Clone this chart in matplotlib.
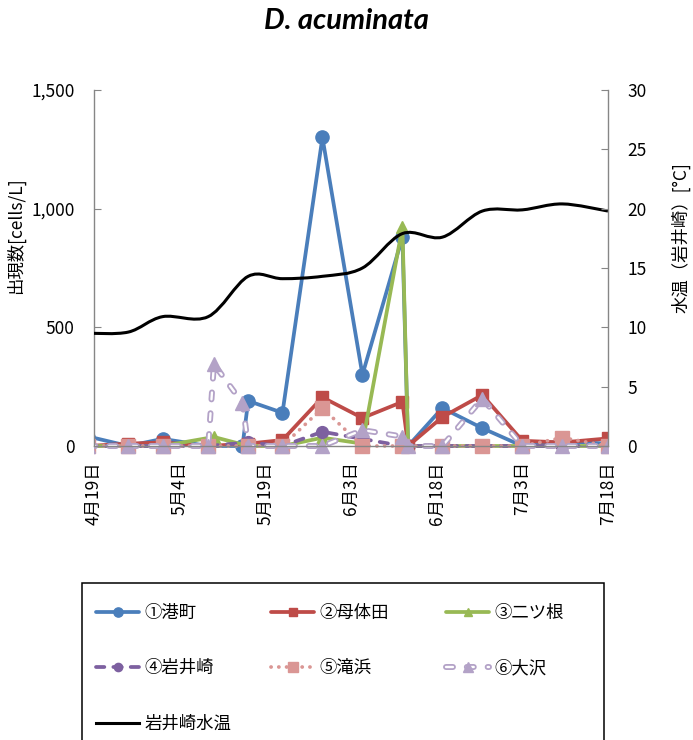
import numpy as np
import pandas as pd
import matplotlib
matplotlib.use('Agg')
import matplotlib.pyplot as plt
import matplotlib.dates as mdates
from matplotlib.path import Path
from matplotlib.patches import PathPatch, Rectangle
from matplotlib.lines import Line2D
from matplotlib.ticker import FuncFormatter, MultipleLocator

plt.rcParams['font.family'] = ['Noto Sans CJK JP', 'DejaVu Sans']
plt.rcParams['lines.scale_dashes'] = False

YEAR = 2016

# ---- data (cells/L) ----
site_names = ['①港町', '②母体田', '③二ツ根', '④岩井崎', '⑤滝浜', '⑥大沢']
temp_name = '岩井崎水温'

minato_dates = ['4/18', '4/25', '5/1', '5/9', '5/15', '5/16', '5/22', '5/29', '6/5',
                '6/12', '6/13', '6/19', '6/26', '7/3', '7/10', '7/18']
minato = [40, 0, 30, 0, 0, 190, 140, 1300, 300, 880, 0, 160, 75, 0, 20, 10]

botaida_dates = ['4/18', '4/25', '5/1', '5/9', '5/16', '5/22', '5/29', '6/5', '6/12',
                 '6/13', '6/19', '6/26', '7/3', '7/10', '7/18']
botaida = [0, 10, 15, 0, 10, 25, 205, 118, 186, 0, 122, 215, 22, 15, 32]

futatsune_dates = ['4/18', '4/25', '5/1', '5/10', '5/16', '5/22', '5/29', '6/5', '6/12',
                   '6/13', '6/19', '6/26', '7/3', '7/10', '7/18']
futatsune = [0, 0, 0, 38, 0, 0, 35, 10, 922, 0, 0, 0, 0, 0, 0]

iwaisaki_dates = ['4/18', '4/25', '5/1', '5/9', '5/16', '5/22', '5/29', '6/5', '6/12',
                  '6/19', '6/26', '7/3', '7/10', '7/18']
iwaisaki = [0, 0, 0, 0, 15, 0, 60, 30, 0, 0, 0, 0, 0, 0]

takihama_dates = ['4/18', '4/25', '5/1', '5/9', '5/16', '5/22', '5/29', '6/5', '6/12',
                  '6/19', '6/26', '7/3', '7/10', '7/18']
takihama = [0, 0, 0, 0, 0, 0, 160, 0, 0, 0, 0, 0, 35, 0]

osawa_dates = ['4/18', '4/25', '5/1', '5/9', '5/10', '5/15', '5/16', '5/22', '5/29', '6/5',
               '6/12', '6/13', '6/19', '6/26', '7/3', '7/10', '7/18']
osawa = [0, 0, 0, 0, 345, 181, 0, 0, 0, 67, 40, 0, 0, 200, 0, 0, 0]

temp_dates = ['4/18', '4/25', '5/1', '5/9', '5/16', '5/22', '5/29', '6/5', '6/12',
              '6/19', '6/26', '7/3', '7/10', '7/18']
temp = [9.5, 9.6, 10.9, 10.9, 14.3, 14.1, 14.3, 15.0, 17.9, 17.6, 19.8, 19.9, 20.4, 19.8]

x_ticks = ['4/19', '5/4', '5/19', '6/3', '6/18', '7/3', '7/18']


def to_num(dates):
    return mdates.date2num(pd.to_datetime([f'{YEAR}/{s}' for s in dates]))


def smooth_path(x, y):
    # Excel-like smoothed line: Catmull-Rom through the points as cubic beziers
    pts = np.column_stack([x, y])
    n = len(pts)
    verts = [pts[0]]
    codes = [Path.MOVETO]
    for i in range(n - 1):
        p0 = pts[i - 1] if i > 0 else pts[i]
        p1, p2 = pts[i], pts[i + 1]
        p3 = pts[i + 2] if i + 2 < n else pts[i + 1]
        verts += [p1 + (p2 - p0) / 6, p2 - (p3 - p1) / 6, p2]
        codes += [Path.CURVE4] * 3
    return Path(verts, codes)


series = [
    (minato_dates, minato, dict(color='#4A7EBB', ls='-', marker='o', ms=9.5)),
    (botaida_dates, botaida, dict(color='#BE4B48', ls='-', marker='s', ms=9)),
    (futatsune_dates, futatsune, dict(color='#98B954', ls='-', marker='^', ms=9)),
    (iwaisaki_dates, iwaisaki, dict(color='#7D60A0', ls=(0, (6, 6.5)), marker='o', ms=8.5)),
    (takihama_dates, takihama, dict(color='#DA9694', ls=(0, (0.1, 5.5)), marker='s', ms=10)),
]

fig = plt.figure(figsize=(6.93, 7.40), dpi=100)
ax = fig.add_axes([94 / 693, 1 - 446 / 740, 514 / 693, 356 / 740])
ax2 = ax.twinx()

# clip lines left/right only, so markers at zero are not cut in half
clip_rect = Rectangle((0, -0.1), 1, 1.2, transform=ax.transAxes)

handles = []
for dates, vals, st in series:
    ln, = ax.plot(to_num(dates), vals, color=st['color'], ls=st['ls'], lw=2.7,
                  marker=st['marker'], ms=st['ms'], mfc=st['color'], mec=st['color'],
                  dash_capstyle='round', solid_capstyle='round')
    ln.set_clip_path(clip_rect)
    handles.append(ln)

# ⑥ outlined dashed line
lav = '#B3A2C7'
xo = to_num(osawa_dates)
outer, = ax.plot(xo, osawa, color=lav, lw=4.3, ls=(0, (5, 10)), dash_capstyle='round')
inner, = ax.plot(xo, osawa, color='white', lw=1.7, ls=(0, (5, 10)), dash_capstyle='round')
marks, = ax.plot(xo, osawa, ls='none', marker='^', ms=10, mfc=lav, mec=lav)
for a in (outer, inner, marks):
    a.set_clip_path(clip_rect)
handles.append((outer, inner, marks))

# water temperature on the right axis
ax2.add_patch(PathPatch(smooth_path(to_num(temp_dates), temp), fill=False,
                        edgecolor='black', lw=2.2))
handles.append(Line2D([], [], color='black', lw=2.2))

ax.set_xlim(to_num(['4/19'])[0], to_num(['7/18'])[0])
ax.set_ylim(0, 1500)
ax2.set_ylim(0, 30)
ax.yaxis.set_major_locator(MultipleLocator(500))
ax2.yaxis.set_major_locator(MultipleLocator(5))
ax.yaxis.set_major_formatter(FuncFormatter(lambda v, p: f'{int(v):,}'))

tick_nums = to_num(x_ticks)
ax.set_xticks(tick_nums)
ax.set_xticklabels([f"{s.split('/')[0]}月{s.split('/')[1]}日" for s in x_ticks],
                   rotation=90, fontsize=12.5)

spine_c = '#868686'
for a in (ax, ax2):
    a.spines['top'].set_visible(False)
    for sp in a.spines.values():
        sp.set_color(spine_c)
        sp.set_linewidth(1.0)
ax.spines['right'].set_visible(False)
ax2.spines['left'].set_visible(False)
ax2.spines['bottom'].set_visible(False)

ax.tick_params(axis='y', direction='in', length=5, color=spine_c, pad=14, labelsize=12.5)
ax2.tick_params(axis='y', direction='in', length=5, color=spine_c, pad=14, labelsize=12.5)
ax.tick_params(axis='x', direction='in', length=0, pad=11)

ax.set_ylabel('出現数[cells/L]', fontsize=12.5)
ax.yaxis.set_label_coords(-0.135, 0.59)
ax2.set_ylabel('水温（岩井崎）[°C]', fontsize=12.5)
ax2.yaxis.set_label_coords(1.124, 0.585)

fig.text(346 / 693, 1 - 21 / 740, 'D. acuminata', family='Lato', weight='bold',
         style='italic', fontsize=21, ha='center', va='center')

# legend: one frameless legend per column, under a common frame
labels = site_names + [temp_name]
columns = [([0, 3, 6], 96), ([1, 4], 271), ([2, 5], 446)]
for idx, x0 in columns:
    leg = fig.legend([handles[i] for i in idx], [labels[i] for i in idx],
                     loc='upper left', bbox_to_anchor=(x0 / 693, 1 - 604 / 740),
                     bbox_transform=fig.transFigure, frameon=False, borderpad=0,
                     borderaxespad=0, fontsize=12.5, handlelength=2.5, handletextpad=0.3,
                     labelspacing=2.15, numpoints=1, markerscale=0.7)
fig.add_artist(Rectangle((82 / 693, -0.05), 522 / 693, 1 - 583 / 740 + 0.05,
                         transform=fig.transFigure, fill=False, edgecolor='black', lw=1.1))

fig.savefig('out.png', dpi=100)
